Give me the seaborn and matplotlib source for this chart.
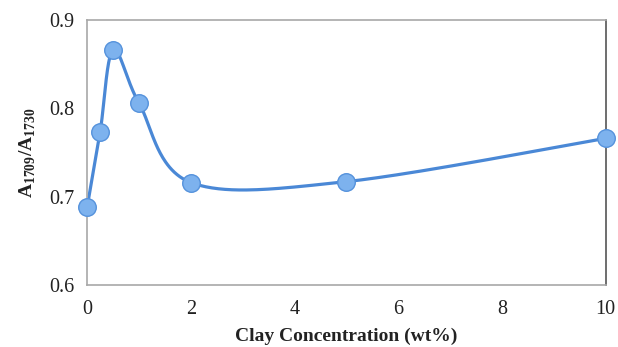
import numpy as np
import pandas as pd
import matplotlib
matplotlib.use("Agg")
import matplotlib.pyplot as plt
import seaborn as sns

clay = [0, 0.25, 0.5, 1, 2, 5, 10]
ratio = [0.688, 0.773, 0.866, 0.806, 0.716, 0.717, 0.766]
xticks = [0, 2, 4, 6, 8, 10]
yticks = [0.6, 0.7, 0.8, 0.9]

sns.set_style("white")
plt.rcParams['font.family'] = ['Liberation Serif', 'DejaVu Serif']
plt.rcParams['mathtext.fontset'] = 'custom'
plt.rcParams['mathtext.rm'] = 'Liberation Serif'
plt.rcParams['mathtext.bf'] = 'Liberation Serif:bold'

fig = plt.figure(figsize=(6.18, 3.47), dpi=100)
ax = fig.add_axes([0.141, 0.179, 0.839, 0.763])
ax.set_xlim(0, 10)
ax.set_ylim(0.6, 0.9)

# Excel-style smoothed line: Catmull-Rom Bezier computed in screen space
disp = ax.transData.transform(np.column_stack([clay, ratio]))
n = len(disp)
t = np.linspace(0, 1, 60)
seg = []
for i in range(n - 1):
    p0 = disp[max(i - 1, 0)]
    p1 = disp[i]
    p2 = disp[i + 1]
    p3 = disp[min(i + 2, n - 1)]
    c1 = p1 + (p2 - p0) / 6.0
    c2 = p2 - (p3 - p1) / 6.0
    b = ((1 - t) ** 3)[:, None] * p1 + (3 * (1 - t) ** 2 * t)[:, None] * c1 \
        + (3 * (1 - t) * t ** 2)[:, None] * c2 + (t ** 3)[:, None] * p2
    seg.append(b)
curve_d = ax.transData.inverted().transform(np.vstack(seg))

curve = pd.DataFrame({"x": curve_d[:, 0], "y": curve_d[:, 1]})
pts = pd.DataFrame({"clay": clay, "ratio": ratio})

sns.lineplot(data=curve, x="x", y="y", sort=False, ax=ax, color="#4a88d6",
             linewidth=2.3, estimator=None, zorder=2)
sns.scatterplot(data=pts, x="clay", y="ratio", ax=ax, s=160, color="#7db2ee",
                edgecolor="#5592dc", linewidth=1.0, zorder=3, clip_on=False)

ax.set_xlim(0, 10)
ax.set_ylim(0.6, 0.9)
ax.set_xticks(xticks)
ax.set_yticks(yticks)
ax.set_xticklabels([str(v) for v in xticks])
ax.set_yticklabels([f"{v:.1f}" for v in yticks])
ax.tick_params(axis="both", which="major", labelsize=14.5, direction="out",
               length=4, width=1, color="#a0a0a0", labelcolor="#222222", pad=5)
ax.tick_params(axis="x", pad=7)

for s in ["left", "bottom", "top"]:
    ax.spines[s].set_color("#a8a8a8")
    ax.spines[s].set_linewidth(1.2)
ax.spines["right"].set_color("#555555")
ax.spines["right"].set_linewidth(1.2)

ax.set_xlabel("Clay Concentration (wt%)", fontsize=14, fontweight="bold",
              color="#222222", labelpad=6)
ax.set_ylabel(r"$\mathbf{A}_{\mathbf{1709}}\mathbf{/A}_{\mathbf{1730}}$", fontsize=14,
              color="#222222", labelpad=8)

fig.savefig("out.png", dpi=100)
